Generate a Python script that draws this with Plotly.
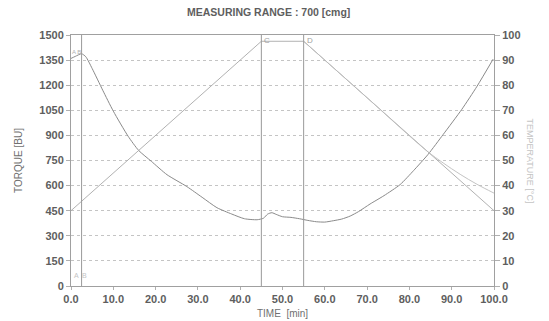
import plotly.graph_objects as go

# ---- data ----
time_torque = [0, 1, 2.5, 3.5, 5, 7.5, 10, 13.5, 16, 19, 22.7, 27.4, 31, 34.5, 38, 41, 44,
               45.5, 46.5, 47.5, 48.5, 50, 52, 54, 56, 58, 60, 62, 64, 66, 68, 70.7, 74,
               77.8, 81, 84.4, 88, 92.4, 96, 99.8]
torque_bu = [1360, 1372, 1388, 1370, 1300, 1170, 1045, 895, 810, 745, 665, 594, 530, 468,
             430, 402, 396, 405, 430, 438, 428, 414, 410, 402, 392, 384, 382, 390, 400, 418,
             445, 490, 540, 606, 690, 786, 906, 1056, 1194, 1356]

time_set_temp = [0, 45, 55, 100]
set_temp_c = [30, 97.5, 97.5, 30]

time_act_temp = [55, 70, 84, 88, 92, 96, 100]
act_temp_c = [97.5, 75.0, 54.0, 49.0, 44.5, 40.5, 37.0]

marker_times = [2.5, 45, 55]
marker_labels = ["C", "D"]

x_ticks = [0, 10, 20, 30, 40, 50, 60, 70, 80, 90, 100]
x_tick_labels = ["0.0", "10.0", "20.0", "30.0", "40.0", "50.0", "60.0", "70.0", "80.0", "90.0", "100.0"]
torque_ticks = [0, 150, 300, 450, 600, 750, 900, 1050, 1200, 1350, 1500]
temp_ticks = [0, 10, 20, 30, 40, 50, 60, 70, 80, 90, 100]

title_text = "MEASURING RANGE : 700 [cmg]"

# ---- figure ----
FONT = "Liberation Sans, Arial, sans-serif"
fig = go.Figure()
fig.add_trace(go.Scatter(x=time_torque, y=torque_bu, mode="lines",
                         line=dict(color="#8a8a8a", width=1, shape="spline", smoothing=0.6),
                         showlegend=False, hoverinfo="skip"))
fig.add_trace(go.Scatter(x=time_set_temp, y=set_temp_c, mode="lines", yaxis="y2",
                         line=dict(color="#a8a8a8", width=0.9),
                         showlegend=False, hoverinfo="skip"))
fig.add_trace(go.Scatter(x=time_act_temp, y=act_temp_c, mode="lines", yaxis="y2",
                         line=dict(color="#bcbcbc", width=0.9, shape="spline"),
                         showlegend=False, hoverinfo="skip"))

for t in marker_times:
    fig.add_shape(type="line", x0=t, x1=t, y0=0, y1=1, xref="x", yref="paper",
                  line=dict(color="#999999", width=1))

tick_font = dict(family=FONT, size=11, color="#5e5e5e", weight="bold")
label_font = dict(family=FONT, size=10, color="#707070")

fig.update_layout(
    width=549, height=321,
    margin=dict(l=71, r=55, t=35, b=35, autoexpand=False),
    paper_bgcolor="white", plot_bgcolor="white",
    font=dict(family=FONT, size=11, color="#5e5e5e"),
    xaxis=dict(range=[0, 100], tickvals=x_ticks, ticktext=x_tick_labels, automargin=False,
               showgrid=False, zeroline=False, showline=True, linecolor="#a0a0a0",
               linewidth=1, mirror=True, ticks="outside", ticklen=3, tickcolor="#b0b0b0",
               tickfont=tick_font,
               title=dict(text="TIME  [min]", font=label_font, standoff=5)),
    yaxis=dict(range=[0, 1500], tickvals=torque_ticks, showgrid=True, gridcolor="#c4c4c4",
               griddash="dot", gridwidth=1, zeroline=False, showline=True, automargin=False,
               linecolor="#a0a0a0", linewidth=1, ticks="outside", ticklen=4,
               tickcolor="#b0b0b0", tickfont=tick_font,
               title=dict(text="TORQUE [BU]", font=label_font, standoff=14)),
    yaxis2=dict(range=[0, 100], tickvals=temp_ticks, overlaying="y", side="right",
                showgrid=False, zeroline=False, showline=True, linecolor="#a0a0a0",
                ticks="outside", ticklen=5, tickcolor="#b0b0b0", automargin=False,
                tickfont=tick_font),
    annotations=[
        dict(text=title_text, x=0.466, y=1, yref="paper", xref="paper", yshift=23,
             yanchor="middle", showarrow=False,
             font=dict(family=FONT, size=10.5, color="#5e5e5e", weight="bold")),
        dict(text="TEMPERATURE [°C]", x=1, xref="paper", y=0.5, yref="paper",
             xshift=43, textangle=90, showarrow=False,
             font=dict(family=FONT, size=9, color="#c4c4c4")),
        dict(text=marker_labels[0], x=marker_times[1], y=1465, xanchor="left", showarrow=False,
             font=dict(size=8, color="#a0a0a0"), xshift=1),
        dict(text=marker_labels[1], x=marker_times[2], y=1465, xanchor="left", showarrow=False,
             font=dict(size=8, color="#a0a0a0"), xshift=1),
        dict(text="A", x=1.2, y=60, showarrow=False, font=dict(size=7, color="#c4c4c4")),
        dict(text="B", x=3.3, y=60, showarrow=False, font=dict(size=7, color="#c4c4c4")),
        dict(text="A B", x=1.4, y=1400, showarrow=False, font=dict(size=6, color="#b0b0b0")),
    ],
)

fig.write_html("out.html", config={"displayModeBar": False, "staticPlot": True},
               post_script="document.body.style.margin='0';document.body.style.overflow='hidden';")
